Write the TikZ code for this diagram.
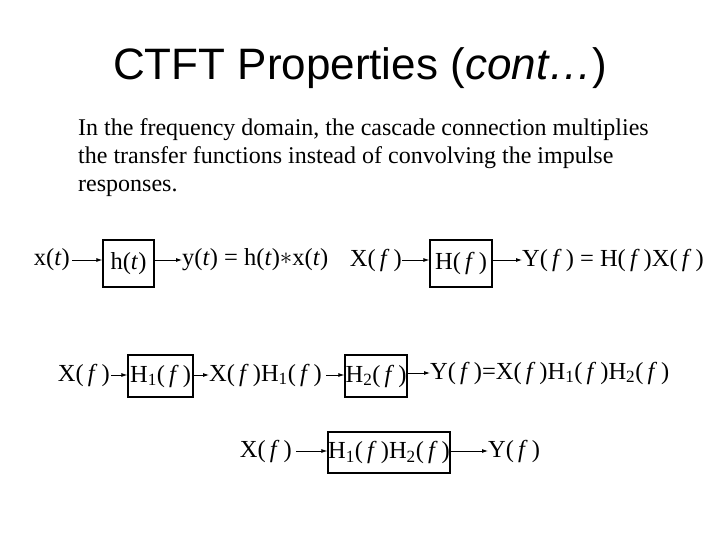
\documentclass[tikz,border=0pt]{standalone}
\usepackage{fontspec}
\setmainfont{Liberation Serif}
\newfontfamily\titlefont{Liberation Sans}
\usetikzlibrary{arrows.meta}
\begin{document}
\begin{tikzpicture}[x=1pt,y=-1pt,
 lbl/.style={inner sep=0pt,font=\fontsize{24.5}{28}\selectfont},
 blk/.style={draw,line width=1.3pt,inner sep=0pt,font=\fontsize{24.5}{28}\selectfont},
 arr/.style={-{Latex[length=6pt,width=4pt]},line width=0.8pt}]
\useasboundingbox (0,0) rectangle (720,540);
\node[font=\titlefont\fontsize{44}{48}\selectfont] (title) at (360,68) {CTFT Properties (\textit{cont…})};
\node[anchor=north west,align=left,inner sep=0pt,font=\fontsize{24}{28}\selectfont] (body) at (78,118)
 {In the frequency domain, the cascade connection multiplies\\the transfer functions instead of convolving the impulse\\responses.};
% row 1 left
\node[lbl,anchor=east] (x1) at (70,260) {x(\textit{t})};
\node[blk,minimum width=51pt,minimum height=47pt] (h1) at (128.5,263.5) {h(\textit{t})};
\node[lbl,anchor=west] (y1) at (182,260) {y(\textit{t}) = h(\textit{t})\raisebox{1pt}{\fontsize{34}{34}\selectfont$\ast$}x(\textit{t})};
\draw[arr] (x1.east) ++(2,0) -- (h1.west|-x1.east);
\draw[arr] (h1.east|-y1.west) -- (y1.west);
% row 1 right
\node[lbl,anchor=east] (x2) at (402,260) {X(\,\textit{f}\,)};
\node[blk,minimum width=62pt,minimum height=47pt] (h2) at (461,263.5) {H(\,\textit{f}\,)};
\node[lbl,anchor=west] (y2) at (522,260) {Y(\,\textit{f}\,) = H(\,\textit{f}\,)X(\,\textit{f}\,)};
\draw[arr] (x2.east) -- (h2.west|-x2.east);
\draw[arr] (h2.east|-y2.west) -- (y2.west);
% row 2
\node[lbl,anchor=east] (x3) at (110,375) {X(\,\textit{f}\,)};
\node[blk,minimum width=65pt,minimum height=42pt] (b1) at (160.5,376) {H\textsubscript{1}(\,\textit{f}\,)};
\node[lbl,anchor=west] (m3) at (209,375) {X(\,\textit{f}\,)H\textsubscript{1}(\,\textit{f}\,)};
\node[blk,minimum width=62pt,minimum height=42pt] (b2) at (376,376) {H\textsubscript{2}(\,\textit{f}\,)};
\node[lbl,anchor=west] (y3) at (430,373) {Y(\,\textit{f}\,)=X(\,\textit{f}\,)H\textsubscript{1}(\,\textit{f}\,)H\textsubscript{2}(\,\textit{f}\,)};
\draw[arr] (x3.east) ++(1,0) -- (b1.west|-x3.east);
\draw[arr] (b1.east|-m3.west) -- (m3.west);
\draw[arr] (m3.east) ++(4,0) -- (b2.west|-m3.east);
\draw[arr] (b2.east|-y3.west) -- (y3.west);
% row 3
\node[lbl,anchor=east] (x4) at (292,451) {X(\,\textit{f}\,)};
\node[blk,minimum width=122pt,minimum height=41pt] (b3) at (389,452.5) {H\textsubscript{1}(\,\textit{f}\,)H\textsubscript{2}(\,\textit{f}\,)};
\node[lbl,anchor=west] (y4) at (488,451) {Y(\,\textit{f}\,)};
\draw[arr] (x4.east) ++(4,0) -- (b3.west|-x4.east);
\draw[arr] (b3.east|-y4.west) -- (y4.west);
\end{tikzpicture}
\end{document}
